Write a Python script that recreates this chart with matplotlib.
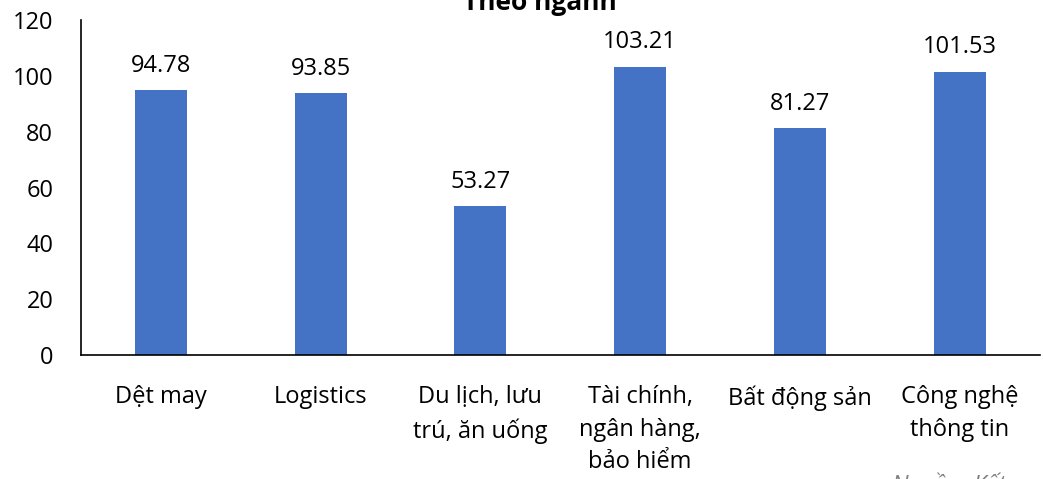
import matplotlib.pyplot as plt
import numpy as np

plt.rcParams['font.family'] = ['Open Sans', 'DejaVu Sans']

categories = ['Dệt may', 'Logistics', 'Du lịch, lưu\ntrú, ăn uống',
              'Tài chính,\nngân hàng,\nbảo hiểm', 'Bất động sản',
              'Công nghệ\nthông tin']
values = [94.78, 93.85, 53.27, 103.21, 81.27, 101.53]
yticks = [0, 20, 40, 60, 80, 100, 120]

fig = plt.figure(figsize=(10.43, 4.79), dpi=100)
ax = fig.add_axes([0.0777, 0.259, 0.919, 0.699])

x = np.arange(len(categories))
bars = ax.bar(x, values, width=0.325, color='#4472C4')

for b, v in zip(bars, values):
    ax.annotate(f'{v:.2f}', (b.get_x() + b.get_width() / 2, v),
                xytext=(0, 9), textcoords='offset points',
                ha='center', va='bottom', fontsize=17)

ax.set_xlim(-0.5, len(categories) - 0.5)
ax.set_ylim(0, 120)
ax.set_yticks(yticks)
ax.set_xticks(x)
ax.set_xticklabels(categories, fontsize=17, linespacing=1.45)
ax.tick_params(axis='y', labelsize=17, length=0, pad=20)
ax.tick_params(axis='x', length=0, pad=22)
for s in ['top', 'right']:
    ax.spines[s].set_visible(False)
ax.spines['left'].set_linewidth(1.2)
ax.spines['bottom'].set_linewidth(1.2)

fig.text(0.518, 0.995, 'Theo ngành', ha='center', va='center',
         fontsize=19, fontweight='bold')
fig.text(0.855, -0.04, 'Nguồn: Kết quả khảo sát', ha='left', va='bottom',
         fontsize=17, style='italic', color='#808080')

fig.savefig('out.png', dpi=100)
